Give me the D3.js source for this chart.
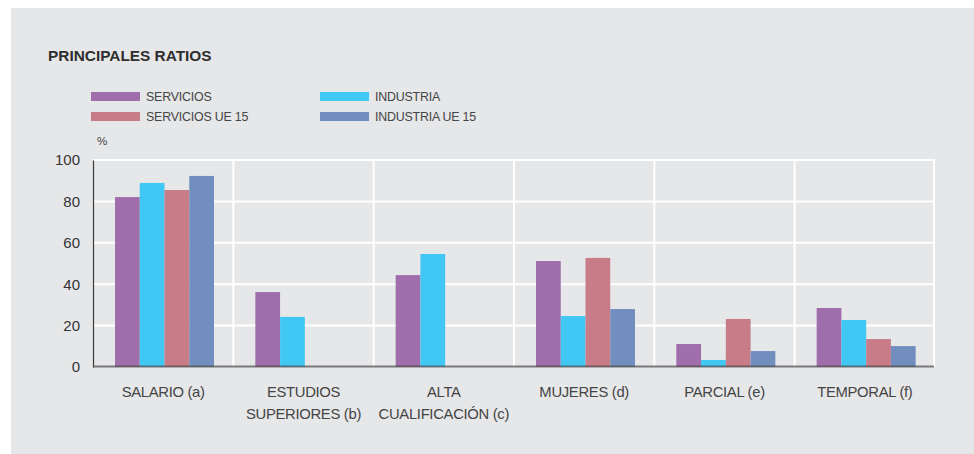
<!DOCTYPE html>
<html>
<head>
<meta charset="utf-8">
<script src="https://cdn.jsdelivr.net/npm/d3@7"></script>
<style>
  html, body { margin: 0; padding: 0; background: #ffffff; }
  svg { display: block; }
  text { font-family: "Liberation Sans", Arial, Helvetica, sans-serif; }
</style>
</head>
<body>
<svg id="chart" width="974" height="454"></svg>
<script>
// Categories (each label split into its display lines)
const categories = ["SALARIO (a)", "ESTUDIOS SUPERIORES (b)", "ALTA CUALIFICACIÓN (c)", "MUJERES (d)", "PARCIAL (e)", "TEMPORAL (f)"];
const categoryLines = [["SALARIO (a)"], ["ESTUDIOS", "SUPERIORES (b)"], ["ALTA", "CUALIFICACIÓN (c)"], ["MUJERES (d)"], ["PARCIAL (e)"], ["TEMPORAL (f)"]];

// Series names and values (%), null where there is no value
const seriesNames = ["SERVICIOS", "INDUSTRIA", "SERVICIOS UE 15", "INDUSTRIA UE 15"];
const servicios     = [82.1, 36.2, 44.4, 51.2, 11.1, 28.5];
const industria     = [88.9, 24.2, 54.6, 24.6, 3.4, 22.7];
const serviciosUE15 = [85.5, null, null, 52.7, 23.2, 13.5];
const industriaUE15 = [92.3, null, null, 28.0, 7.7, 10.1];
const seriesValues = [servicios, industria, serviciosUE15, industriaUE15];
const seriesColors = ["#a06eab", "#41c7f3", "#c77c87", "#718ebf"];

const yTicks = [0, 20, 40, 60, 80, 100];

const svg = d3.select("#chart");

// Grey panel
svg.append("rect")
  .attr("x", 11).attr("y", 8)
  .attr("width", 974 - 11).attr("height", 454 - 8)
  .attr("fill", "#e6e7e9");

// Title
svg.append("text")
  .attr("x", 48).attr("y", 61)
  .attr("font-size", 15.4).attr("font-weight", "bold")
  .attr("fill", "#2e2e2e")
  .text("PRINCIPALES RATIOS");

// Legend (two columns, two rows)
const legendPos = [[91, 92], [320, 92], [91, 112], [320, 112]];
const legend = svg.append("g");
seriesNames.forEach((name, i) => {
  const [lx, ly] = legendPos[i];
  legend.append("rect")
    .attr("x", lx).attr("y", ly)
    .attr("width", 49).attr("height", 9)
    .attr("fill", seriesColors[i]);
  legend.append("text")
    .attr("x", lx + 55).attr("y", ly + 9)
    .attr("font-size", 12.4).attr("fill", "#454545")
    .attr("letter-spacing", -0.2)
    .text(name);
});

// Unit label
svg.append("text")
  .attr("x", 97).attr("y", 145)
  .attr("font-size", 11.5).attr("fill", "#454545")
  .text("%");

// Scales
const plotLeft = 93, plotRight = 935, plotTop = 160, plotBottom = 367;
const x = d3.scaleBand().domain(categories).range([plotLeft, plotRight]).paddingInner(0).paddingOuter(0);
const groupPad = 22;
const xInner = d3.scaleBand().domain(d3.range(seriesNames.length))
  .range([groupPad, groupPad + 99]).padding(0);
const y = d3.scaleLinear().domain([0, 100]).range([plotBottom, plotTop]);

// Horizontal gridlines
svg.append("g")
  .selectAll("line")
  .data(yTicks.filter(t => t > 0))
  .join("line")
  .attr("x1", plotLeft).attr("x2", plotRight)
  .attr("y1", d => y(d)).attr("y2", d => y(d))
  .attr("stroke", "#ffffff").attr("stroke-width", 2);

// Vertical gridlines at category boundaries
const boundaries = categories.slice(1).map(c => x(c)).concat([plotRight - 1]);
svg.append("g")
  .selectAll("line")
  .data(boundaries)
  .join("line")
  .attr("x1", d => d).attr("x2", d => d)
  .attr("y1", plotTop - 1).attr("y2", plotBottom)
  .attr("stroke", "#ffffff").attr("stroke-width", 2);

// Bars
const bars = [];
categories.forEach((c, ci) => {
  seriesValues.forEach((vals, si) => {
    if (vals[ci] != null) bars.push({ cat: c, s: si, v: vals[ci] });
  });
});
svg.append("g")
  .selectAll("rect")
  .data(bars)
  .join("rect")
  .attr("x", d => x(d.cat) + xInner(d.s))
  .attr("width", xInner.bandwidth())
  .attr("y", d => y(d.v))
  .attr("height", d => y(0) - y(d.v))
  .attr("fill", d => seriesColors[d.s]);

// Y axis
const yAxis = svg.append("g")
  .attr("transform", `translate(${plotLeft},0)`)
  .call(d3.axisLeft(y).tickValues(yTicks).tickSize(0).tickPadding(13));
yAxis.select(".domain").attr("stroke", "#3a3a3a").attr("stroke-width", 1.2);
yAxis.selectAll("text")
  .attr("font-size", 15).attr("fill", "#333333")
  .attr("font-family", "Liberation Sans, Arial, sans-serif");

// Baseline
svg.append("line")
  .attr("x1", plotLeft).attr("x2", plotRight - 1)
  .attr("y1", plotBottom - 0.5).attr("y2", plotBottom - 0.5)
  .attr("stroke", "#4a4a4a").attr("stroke-opacity", 0.7).attr("stroke-width", 2);

// Category labels
const xAxis = svg.append("g");
categories.forEach((c, ci) => {
  const t = xAxis.append("text")
    .attr("x", x(c) + x.bandwidth() / 2)
    .attr("y", 397)
    .attr("text-anchor", "middle")
    .attr("font-size", 14.8).attr("fill", "#444444")
    .attr("letter-spacing", -0.3);
  categoryLines[ci].forEach((line, li) => {
    t.append("tspan")
      .attr("x", x(c) + x.bandwidth() / 2)
      .attr("dy", li === 0 ? 0 : 22)
      .text(line);
  });
});
</script>
</body>
</html>
